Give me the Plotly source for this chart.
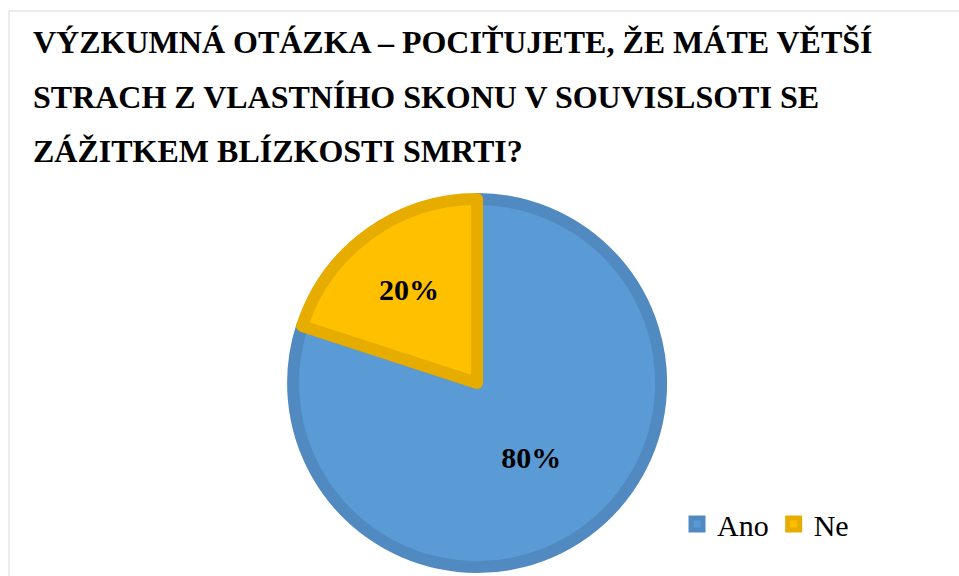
import plotly.graph_objects as go

# Data
categories = ["Ano", "Ne"]
values = [80, 20]
fill_colors = ["#5B9BD5", "#FFC000"]
border_colors = ["#5189C1", "#E6AC00"]
title_lines = [
    "VÝZKUMNÁ OTÁZKA – POCIŤUJETE, ŽE MÁTE VĚTŠÍ",
    "STRACH Z VLASTNÍHO SKONU V SOUVISLSOTI SE",
    "ZÁŽITKEM BLÍZKOSTI SMRTI?",
]

W, H = 959, 576
serif = "Liberation Serif"

fig = go.Figure()
fig.add_trace(go.Pie(
    labels=categories,
    values=values,
    sort=False,
    direction="clockwise",
    rotation=0,
    marker=dict(colors=fill_colors, line=dict(color=border_colors, width=12)),
    textinfo="percent",
    texttemplate="%{percent:.0%}",
    textposition="inside",
    insidetextorientation="horizontal",
    textfont=dict(family=serif, size=30, color="black", weight="bold"),
    hoverinfo="skip",
    domain=dict(x=[0.25, 0.745], y=[(576 - 383 - 184) / H, (576 - 383 + 184) / H]),
))

annotations = []
line_centers = [41.5, 96.5, 151.5]
for txt, yc in zip(title_lines, line_centers):
    annotations.append(dict(
        text=txt, xref="paper", yref="paper",
        x=31 / W, y=1 - yc / H, xanchor="left", yanchor="middle",
        showarrow=False,
        font=dict(family=serif, size=32, color="black", weight=700),
    ))

fig.update_layout(
    width=W, height=H,
    margin=dict(l=0, r=0, t=0, b=0),
    paper_bgcolor="white",
    plot_bgcolor="white",
    annotations=annotations,
    showlegend=True,
    legend=dict(
        orientation="h",
        x=677 / W, y=1 - 524 / H, xanchor="left", yanchor="middle",
        font=dict(family=serif, size=30, color="black"),
        bgcolor="rgba(0,0,0,0)",
    ),
    shapes=[dict(
        type="rect", xref="paper", yref="paper",
        x0=9 / W, x1=1.02, y0=-0.02, y1=1 - 11 / H,
        line=dict(color="#D9D9D9", width=1), fillcolor="rgba(0,0,0,0)",
        layer="below",
    )],
)

fig.write_html(
    "out.html",
    config={"displayModeBar": False},
    post_script="document.body.style.margin='0';document.body.style.overflow='hidden';",
)
